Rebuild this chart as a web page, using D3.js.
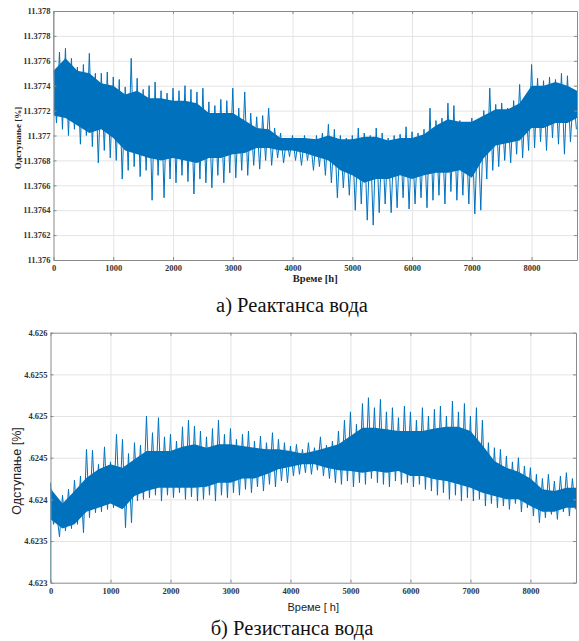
<!DOCTYPE html>
<html>
<head>
<meta charset="utf-8">
<script src="https://cdn.jsdelivr.net/npm/d3@7"></script>
<style>
body { margin: 0; background: #fff; }
.grid line { stroke: #e4e4e4; stroke-width: 1; }
.grid path { display: none; }
.axis path, .axis line { stroke: #8a8a8a; }
.axis text { font-family: "Liberation Serif", serif; font-weight: bold; font-size: 8.5px; fill: #333; }
</style>
</head>
<body>
<div class="demo"></div>
<script>
const W = 579, H = 641;

// hours
const xTicks = [0, 1000, 2000, 3000, 4000, 5000, 6000, 7000, 8000];
const hiHours = d3.range(0, 8800, 100);
const loHours = d3.range(50, 8800, 100);
const coreHours = d3.range(0, 8900, 200);

// а) reactance
const reactTicks = [11.376, 11.3762, 11.3764, 11.3766, 11.3768, 11.377, 11.3772, 11.3774, 11.3776, 11.3778, 11.378];
const reactTickLabels = ['11.376', '11.3762', '11.3764', '11.3766', '11.3768', '11.377', '11.3772', '11.3774', '11.3776', '11.3778', '11.378'];
const reactStart = 11.3785;
const reactHi = [
  11.37752, 11.37767, 11.3777, 11.37762, 11.37755, 11.37757, 11.37766, 11.3775, 11.3775, 11.37751,
  11.37747, 11.37745, 11.37739, 11.37762, 11.37746, 11.37737, 11.3774, 11.37743, 11.37736, 11.37734,
  11.37738, 11.37736, 11.3774, 11.37737, 11.37735, 11.37738, 11.37727, 11.37724, 11.37729, 11.37728,
  11.37738, 11.37722, 11.37735, 11.37718, 11.37715, 11.37716, 11.37722, 11.37706, 11.37702, 11.37698,
  11.377, 11.37698, 11.377, 11.37697, 11.377, 11.37702, 11.37709, 11.37705, 11.377, 11.37698,
  11.377, 11.37706, 11.37702, 11.377, 11.37706, 11.37702, 11.37698, 11.377, 11.37701, 11.37707,
  11.37703, 11.37702, 11.37705, 11.37722, 11.37712, 11.37714, 11.37726, 11.37724, 11.37712, 11.3771,
  11.37714, 11.37708, 11.3772, 11.37738, 11.37725, 11.37726, 11.37722, 11.37728, 11.37741, 11.37731,
  11.37757, 11.37746, 11.37744, 11.37747, 11.37745, 11.3775, 11.37748, 11.37734
];
const reactLo = [
  11.3771, 11.37705, 11.377, 11.37705, 11.37693, 11.377, 11.37691, 11.37678, 11.37688, 11.37682,
  11.3768, 11.37665, 11.37672, 11.37675, 11.37667, 11.37672, 11.37648, 11.37668, 11.3765, 11.37665,
  11.37662, 11.37668, 11.37663, 11.37653, 11.37665, 11.37662, 11.37658, 11.37668, 11.37662, 11.3767,
  11.37666, 11.37672, 11.37668, 11.37676, 11.37673, 11.3768, 11.37676, 11.37682, 11.37678, 11.37683,
  11.3768, 11.37676, 11.3768, 11.37672, 11.37675, 11.37668, 11.37662, 11.3765, 11.37658, 11.37652,
  11.3764, 11.37645, 11.37632, 11.37628, 11.37638, 11.37645, 11.37638, 11.37642, 11.3765, 11.37641,
  11.37645, 11.3765, 11.37642, 11.37648, 11.37652, 11.37645, 11.37655, 11.37648, 11.37652, 11.37645,
  11.37637, 11.3764, 11.37665, 11.37672, 11.37675, 11.3768, 11.37678, 11.37685, 11.37682, 11.37688,
  11.3769, 11.37695, 11.37688, 11.37698, 11.37693, 11.37685, 11.37695, 11.37705
];
const reactCoreHi = [
  11.37752, 11.37762, 11.37752, 11.3775, 11.37742, 11.3774, 11.37733, 11.37736, 11.3773, 11.3773,
  11.37728, 11.37728, 11.37726, 11.37718, 11.37718, 11.37718, 11.37712, 11.37706, 11.37705, 11.37698,
  11.37698, 11.37698, 11.37697, 11.377, 11.37697, 11.37697, 11.37699, 11.37699, 11.37696, 11.37698,
  11.37698, 11.37701, 11.37708, 11.37713, 11.37711, 11.37711, 11.37716, 11.37721, 11.37721, 11.37726,
  11.3774, 11.3774, 11.37743, 11.3774, 11.37735
];
const reactCoreLo = [
  11.37716, 11.37714, 11.37708, 11.37702, 11.37705, 11.37698, 11.37688, 11.37685, 11.37682, 11.3768,
  11.37682, 11.3768, 11.37678, 11.37682, 11.37682, 11.37685, 11.37686, 11.3769, 11.3769, 11.37688,
  11.37688, 11.37686, 11.37683, 11.3768, 11.37672, 11.37668, 11.37662, 11.37665, 11.37665, 11.37668,
  11.37665, 11.37668, 11.3767, 11.3767, 11.37672, 11.37666, 11.37682, 11.37692, 11.37694, 11.37696,
  11.37706, 11.37706, 11.3771, 11.3771, 11.37715
];

// б) resistance
const resistTicks = [4.623, 4.6235, 4.624, 4.6245, 4.625, 4.6255, 4.626];
const resistTickLabels = ['4.623', '4.6235', '4.624', '4.6245', '4.625', '4.6255', '4.626'];
const resistStart = 4.6228;
const resistHi = [
  4.6242, 4.62385, 4.62405, 4.62412, 4.62423, 4.62428, 4.6246, 4.62459, 4.62442, 4.62463,
  4.62445, 4.62478, 4.62472, 4.62455, 4.62468, 4.62465, 4.625, 4.6248, 4.62498, 4.62475,
  4.62478, 4.6247, 4.62487, 4.62495, 4.62488, 4.62482, 4.62475, 4.62485, 4.62495, 4.62478,
  4.62485, 4.62472, 4.62478, 4.62482, 4.6247, 4.62476, 4.62468, 4.6248, 4.62472, 4.62468,
  4.62464, 4.62466, 4.6246, 4.62468, 4.62462, 4.62475, 4.62465, 4.6247, 4.62482, 4.62495,
  4.62505, 4.6249, 4.62515, 4.62522, 4.6251, 4.6252, 4.62505, 4.6251, 4.62498, 4.62512,
  4.62505, 4.62495, 4.6251, 4.625, 4.62508, 4.62512, 4.625, 4.62518, 4.62505, 4.62515,
  4.625, 4.6251, 4.62495, 4.62468, 4.62462, 4.6246, 4.62452, 4.62445, 4.6245, 4.6244,
  4.62438, 4.6243, 4.62425, 4.6243, 4.62422, 4.62428, 4.62432, 4.62425
];
const resistLo = [
  4.6237, 4.62355, 4.62362, 4.62365, 4.6237, 4.6236, 4.62378, 4.62384, 4.62385, 4.62388,
  4.6239, 4.62392, 4.62366, 4.62372, 4.62398, 4.624, 4.62402, 4.62405, 4.62398, 4.62405,
  4.62402, 4.62408, 4.624, 4.62403, 4.62398, 4.624, 4.62405, 4.62398, 4.62405, 4.62402,
  4.62408, 4.62405, 4.62412, 4.62408, 4.62415, 4.6241, 4.62418, 4.62415, 4.62422, 4.6242,
  4.62428, 4.6243, 4.62432, 4.6243, 4.62435, 4.62428, 4.62425, 4.6242, 4.62418, 4.62422,
  4.62415, 4.6242, 4.62418, 4.62425, 4.6242, 4.62418, 4.62415, 4.62422, 4.62418, 4.6242,
  4.62415, 4.62418, 4.62412, 4.6241, 4.62405, 4.62408, 4.624, 4.62405, 4.62398, 4.62402,
  4.62398, 4.624, 4.62392, 4.62395, 4.6239, 4.62392, 4.62388, 4.62395, 4.62385, 4.6239,
  4.6238, 4.62372, 4.62378, 4.62382, 4.62376, 4.62385, 4.6238, 4.62388
];
const resistCoreHi = [
  4.62413, 4.62395, 4.6241, 4.62426, 4.62436, 4.62442, 4.62438, 4.62448, 4.62458, 4.62458,
  4.62458, 4.62463, 4.62466, 4.62462, 4.62466, 4.62466, 4.62464, 4.62462, 4.6246, 4.6246,
  4.62458, 4.62455, 4.62458, 4.62462, 4.62466, 4.62476, 4.62486, 4.62486, 4.62484, 4.62482,
  4.62482, 4.62482, 4.62485, 4.62487, 4.62487, 4.62482, 4.62465, 4.62446, 4.62438, 4.62433,
  4.62425, 4.62412, 4.6241, 4.62414, 4.62414
];
const resistCoreLo = [
  4.62376, 4.62365, 4.6237, 4.62385, 4.6239, 4.62395, 4.62388, 4.62404, 4.6241, 4.62414,
  4.62414, 4.62414, 4.62414, 4.62415, 4.6242, 4.6242, 4.62425, 4.62425, 4.6243, 4.62436,
  4.62439, 4.62442, 4.62442, 4.62438, 4.62435, 4.62434, 4.62432, 4.62434, 4.62432, 4.62434,
  4.62428, 4.62428, 4.62424, 4.62422, 4.62418, 4.62414, 4.62408, 4.62404, 4.624, 4.624,
  4.62392, 4.62385, 4.62385, 4.6239, 4.6239
];

let svg = d3.select('.demo').append('svg').attr('width', W).attr('height', H)
    .style('display', 'block');
svg.append('rect').attr('width', W).attr('height', H).attr('fill', '#fff');

function drawPanel(p) {
    let x = d3.scaleLinear().domain([0, 8760]).range([p.left, p.right]);
    let y = d3.scaleLinear().domain([p.ticks[0], p.ticks[p.ticks.length - 1]]).range([p.bottom, p.top]);
    let g = svg.append('g');

    g.append('clipPath').attr('id', p.id).append('rect')
        .attr('x', p.left).attr('y', p.top)
        .attr('width', p.right - p.left).attr('height', p.bottom - p.top);

    // grid
    g.append('g').attr('class', 'grid')
        .attr('transform', 'translate(0,' + p.bottom + ')')
        .call(d3.axisBottom(x).tickValues(xTicks.slice(1)).tickFormat('').tickSize(-(p.bottom - p.top)));
    g.append('g').attr('class', 'grid')
        .attr('transform', 'translate(' + p.left + ',0)')
        .call(d3.axisLeft(y).tickValues(p.ticks.slice(1, -1)).tickFormat('').tickSize(-(p.right - p.left)));

    // series: dense band + trace between peaks and dips
    let pts = [{t: 0, v: p.start}];
    hiHours.forEach(function(t, i) {
        pts.push({t: t, v: p.hi[i]});
        if (i < p.lo.length) pts.push({t: loHours[i], v: p.lo[i]});
    });
    let core = coreHours.map(function(t, i) { return {t: t, a: p.coreLo[i], b: p.coreHi[i]}; });

    let band = d3.area()
        .x(function(d) { return x(d.t); })
        .y0(function(d) { return y(d.a); })
        .y1(function(d) { return y(d.b); });

    let plot = g.append('g').attr('clip-path', 'url(#' + p.id + ')');
    plot.append('path').datum(core)
        .attr('fill', '#0072BD')
        .attr('d', band);
    plot.append('path').datum(pts)
        .attr('fill', 'none')
        .attr('stroke', '#0072BD')
        .attr('stroke-width', 1)
        .attr('d', d3.line().x(function(d) { return x(d.t); }).y(function(d) { return y(d.v); }));

    // axes, ticks inward on all sides
    g.append('g').attr('class', 'axis')
        .attr('transform', 'translate(0,' + p.bottom + ')')
        .call(d3.axisBottom(x).tickValues(xTicks).tickSize(-3).tickPadding(5).tickSizeOuter(0)
            .tickFormat(d3.format('d')));
    g.append('g').attr('class', 'axis')
        .attr('transform', 'translate(0,' + p.top + ')')
        .call(d3.axisTop(x).tickValues(xTicks).tickSize(-3).tickFormat('').tickSizeOuter(0));
    g.append('g').attr('class', 'axis')
        .attr('transform', 'translate(' + p.left + ',0)')
        .call(d3.axisLeft(y).tickValues(p.ticks).tickSize(-3).tickPadding(3).tickSizeOuter(0)
            .tickFormat(function(d, i) { return p.tickLabels[i]; }));
    g.append('g').attr('class', 'axis')
        .attr('transform', 'translate(' + p.right + ',0)')
        .call(d3.axisRight(y).tickValues(p.ticks).tickSize(-3).tickFormat('').tickSizeOuter(0));

    // titles
    let yt = g.append('g').attr('transform', 'translate(' + p.yTitleX + ',' + p.yTitleY + ') rotate(-90)');
    if (p.titleBg) {
        yt.append('rect').attr('x', -47).attr('y', -8).attr('width', 94).attr('height', p.titleBg).attr('fill', '#fff');
    }
    yt.append('text').attr('text-anchor', 'middle').attr('dy', '0.35em')
        .attr('font-family', p.titleFont).attr('font-weight', p.titleWeight)
        .attr('font-size', p.yTitleSize).attr('fill', '#222')
        .text('Одступање [%]');
    g.append('text').attr('x', (p.left + p.right) / 2).attr('y', p.xTitleY)
        .attr('text-anchor', 'middle')
        .attr('font-family', p.titleFont).attr('font-weight', p.titleWeight)
        .attr('font-size', p.xTitleSize).attr('fill', '#222')
        .text(p.xTitle);
    g.append('text').attr('x', 292).attr('y', p.captionY)
        .attr('text-anchor', 'middle')
        .attr('font-family', 'Liberation Serif, serif').attr('font-size', 20.5).attr('fill', '#111')
        .text(p.caption);
}

drawPanel({
    id: 'clipA', left: 53.5, right: 577, top: 11, bottom: 260,
    ticks: reactTicks, tickLabels: reactTickLabels, start: reactStart,
    hi: reactHi, lo: reactLo, coreHi: reactCoreHi, coreLo: reactCoreLo,
    titleFont: 'Liberation Serif, serif', titleWeight: 'bold',
    yTitleX: 18, yTitleY: 138, yTitleSize: 9, xTitleY: 282, xTitleSize: 10.5,
    xTitle: 'Време [h]',
    captionY: 312, caption: 'а) Реактанса вода'
});

drawPanel({
    id: 'clipB', left: 50.5, right: 576, top: 332.7, bottom: 582.7,
    ticks: resistTicks, tickLabels: resistTickLabels, start: resistStart,
    hi: resistHi, lo: resistLo, coreHi: resistCoreHi, coreLo: resistCoreLo,
    titleFont: 'Liberation Sans, sans-serif', titleWeight: 'normal', titleBg: 19.8,
    yTitleX: 17, yTitleY: 471, yTitleSize: 12.5, xTitleY: 611, xTitleSize: 11,
    xTitle: 'Време [ h]',
    captionY: 635, caption: 'б) Резистанса вода'
});
</script>
</body>
</html>
